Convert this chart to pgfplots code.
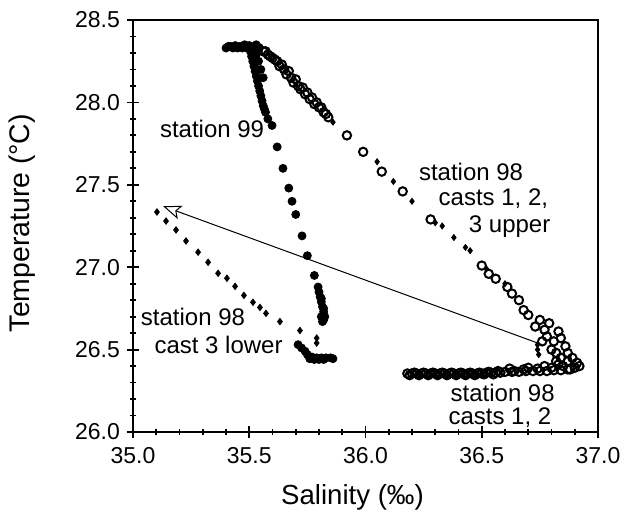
\documentclass[border=0pt]{standalone}
\usepackage{pgfplots}
\pgfplotsset{compat=1.18}
\usepackage{fontspec}
\setmainfont{Liberation Sans}
\usetikzlibrary{arrows.meta}
\begin{document}
\begin{tikzpicture}
\begin{axis}[
  at={(0,0)}, anchor=south west,
  scale only axis, width=232.5pt, height=206pt,
  xmin=35, xmax=37, ymin=26, ymax=28.5,
  xtick={35,35.5,36,36.5,37}, ytick={26,26.5,27,27.5,28,28.5},
  minor x tick num=4, minor y tick num=4,
  tick align=center, major tick length=6pt, minor tick length=3pt,
  xtick pos=bottom, ytick pos=left,
  axis line style={line width=1pt}, every tick/.style={line width=0.9pt, black},
  /pgf/number format/.cd, fixed, fixed zerofill, precision=1, assume math mode=true,
  /pgfplots/.cd,
  tick label style={font=\fontsize{11.5}{13}\selectfont},
  xticklabel style={yshift=-1pt},
  xlabel={Salinity (‰)}, ylabel={Temperature (°C)},
  every axis x label/.style={at={(axis description cs:0.472,-0.158)}, anchor=center, font=\fontsize{13.8}{16}\selectfont},
  every axis y label/.style={at={(axis description cs:-0.2387,0.507)}, rotate=90, anchor=center, font=\fontsize{14.2}{16}\selectfont},
  clip=false,
]
% arrow
\addplot[black, line width=0.5pt, -{Stealth[length=9pt,width=7pt,open,inset=2pt]}] coordinates {(36.76,26.53) (35.13,27.37)};
% station 99 (filled dots)
\addplot[only marks, mark=*, mark size=2pt, black] coordinates {
(35.40,28.33)(35.42,28.34)(35.44,28.345)(35.46,28.34)(35.48,28.35)(35.50,28.345)(35.52,28.34)(35.54,28.33)
(35.43,28.33)(35.45,28.33)(35.47,28.33)(35.49,28.33)(35.51,28.33)(35.53,28.35)(35.41,28.34)
(35.505,28.31)(35.51,28.28)(35.515,28.25)(35.52,28.22)(35.525,28.19)(35.53,28.16)(35.535,28.13)
(35.54,28.10)(35.545,28.07)(35.55,28.04)(35.555,28.01)(35.56,27.98)(35.565,27.96)(35.57,27.94)
(35.53,28.29)(35.54,28.25)(35.55,28.20)(35.56,28.15)
(35.58,27.90)(35.598,27.86)(35.62,27.73)(35.645,27.60)(35.67,27.48)(35.684,27.40)(35.70,27.32)
(35.727,27.19)(35.75,27.07)(35.78,26.95)(35.796,26.88)
(35.80,26.85)(35.805,26.82)(35.81,26.79)(35.815,26.76)(35.82,26.73)(35.825,26.70)(35.82,26.68)
(35.81,26.70)(35.815,26.67)(35.82,26.75)(35.81,26.81)
(35.71,26.53)(35.725,26.51)(35.74,26.49)(35.75,26.47)(35.77,26.455)(35.79,26.45)(35.81,26.45)
(35.83,26.45)(35.85,26.45)(35.86,26.445)(35.78,26.44)(35.82,26.44)(35.76,26.445)(35.80,26.44)
};
% station 98 casts 1,2,3 upper (open circles)
\addplot[only marks, mark=o, mark size=2.1pt, black, mark options={line width=1pt}] coordinates {
(35.54,28.33)(35.56,28.31)(35.58,28.29)(35.60,28.27)(35.62,28.25)(35.63,28.22)(35.65,28.20)
(35.66,28.17)(35.68,28.15)(35.69,28.12)(35.71,28.10)(35.72,28.08)(35.74,28.05)(35.76,28.02)
(35.78,27.99)(35.80,27.97)(35.82,27.94)(35.84,27.91)
(35.57,28.31)(35.59,28.28)(35.61,28.26)(35.64,28.23)(35.67,28.19)(35.70,28.14)(35.73,28.09)
(35.75,28.06)(35.77,28.03)(35.79,28.00)(35.81,27.97)(35.83,27.93)
(35.92,27.80)(35.99,27.70)(36.07,27.58)
(36.16,27.46)(36.28,27.29)(36.50,27.01)(36.53,26.96)(36.56,26.93)(36.61,26.88)(36.63,26.84)
(36.66,26.80)(36.68,26.74)(36.70,26.71)(36.75,26.68)(36.73,26.64)(36.77,26.62)(36.78,26.58)
(36.81,26.55)(36.80,26.50)(36.84,26.57)(36.86,26.52)(36.87,26.48)(36.89,26.45)(36.91,26.42)
(36.92,26.40)(36.84,26.45)(36.85,26.40)(36.88,26.38)(36.82,26.48)(36.79,26.66)(36.83,26.61)
(36.76,26.55)(36.82,26.43)(36.87,26.43)(36.90,26.39)
(36.18,26.355)(36.20,26.355)(36.22,26.355)(36.24,26.355)(36.26,26.355)(36.28,26.355)(36.30,26.355)
(36.32,26.355)(36.34,26.355)(36.36,26.355)(36.38,26.355)(36.40,26.355)(36.42,26.355)(36.44,26.355)
(36.46,26.355)(36.48,26.355)(36.50,26.355)(36.52,26.36)(36.54,26.36)(36.56,26.36)(36.58,26.36)
(36.60,26.365)(36.63,26.365)(36.66,26.365)(36.69,26.37)(36.72,26.37)(36.75,26.37)(36.78,26.37)
(36.81,26.375)(36.84,26.375)(36.87,26.38)
(36.19,26.345)(36.23,26.345)(36.27,26.345)(36.31,26.345)(36.35,26.345)(36.39,26.345)(36.43,26.345)
(36.47,26.345)(36.51,26.35)(36.55,26.35)(36.62,26.385)(36.70,26.39)(36.77,26.40)(36.83,26.41)
(36.21,26.36)(36.25,26.36)(36.29,26.36)(36.33,26.36)(36.37,26.36)(36.41,26.36)(36.45,26.36)
(36.49,26.36)(36.53,26.365)(36.57,26.37)(36.64,26.37)(36.68,26.38)(36.74,26.385)(36.80,26.39)
};
% station 98 small diamonds
\addplot[only marks, mark=diamond*, mark size=1.5pt, black] coordinates {
(35.86,27.88)(36.05,27.64)(36.20,27.40)(36.30,27.27)(36.33,27.25)(36.43,27.12)(36.45,27.10)
(36.52,26.99)(36.60,26.90)(36.74,26.50)(36.745,26.47)(36.74,26.53)(36.12,27.52)(36.38,27.18)
};
% station 98 cast 3 lower
\addplot[only marks, mark=diamond*, mark size=1.6pt, black] coordinates {
(35.103,27.335)(35.142,27.28)(35.185,27.226)(35.228,27.159)(35.280,27.091)(35.323,27.03)
(35.366,26.963)(35.404,26.933)(35.439,26.884)(35.477,26.829)(35.516,26.787)(35.546,26.756)
(35.572,26.72)(35.632,26.67)(35.718,26.616)(35.79,26.57)(35.79,26.54)
};
\node[font=\fontsize{12}{14}\selectfont] at (axis cs:35.34,27.84) {station 99};
\node[font=\fontsize{12}{14}\selectfont] at (axis cs:36.454,27.58) {station 98};
\node[font=\fontsize{12}{14}\selectfont] at (axis cs:36.55,27.415) {casts 1, 2,};
\node[font=\fontsize{12}{14}\selectfont] at (axis cs:36.62,27.244) {3 upper};
\node[font=\fontsize{12}{14}\selectfont] at (axis cs:35.258,26.70) {station 98};
\node[font=\fontsize{12}{14}\selectfont] at (axis cs:35.368,26.53) {cast 3 lower};
\node[font=\fontsize{12}{14}\selectfont] at (axis cs:36.59,26.238) {station 98};
\node[font=\fontsize{12}{14}\selectfont] at (axis cs:36.578,26.09) {casts 1, 2};
\end{axis}
\pgfresetboundingbox
\path (-66.5pt,-42pt) rectangle (248.5pt,216pt);
\end{tikzpicture}
\end{document}
